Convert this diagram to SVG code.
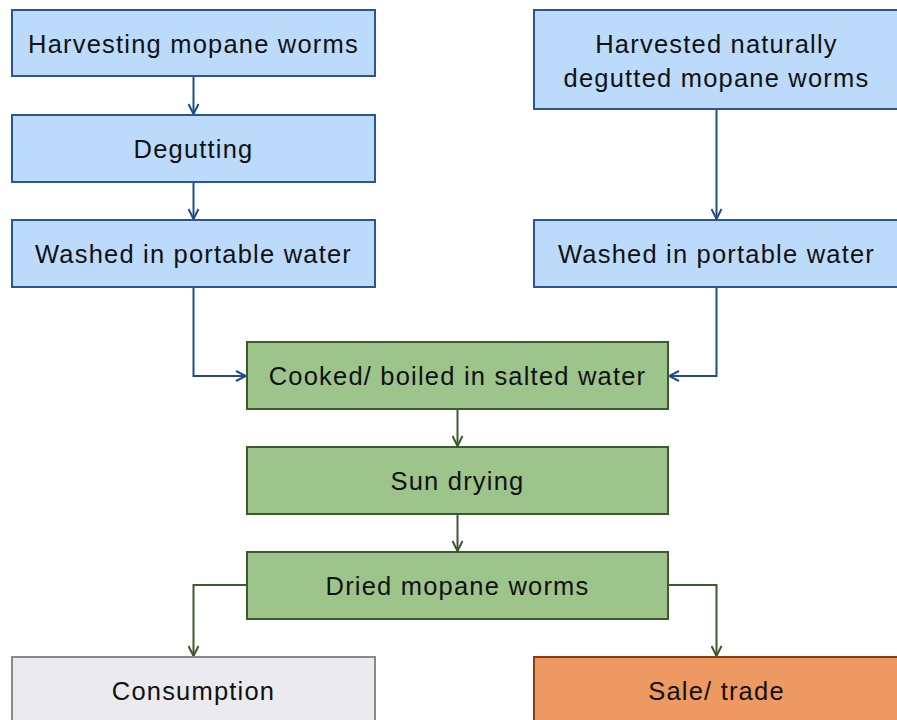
<svg xmlns="http://www.w3.org/2000/svg" width="897" height="720" viewBox="0 0 897 720">
<defs>
<style>
text{font-family:"Liberation Sans",Arial,sans-serif;font-size:25.5px;letter-spacing:1.2px;fill:#111;text-anchor:middle}
.blue{fill:#bcdbfb;stroke:#2a5597;stroke-width:2}
.green{fill:#9cc48b;stroke:#3d5a2f;stroke-width:2}
.gray{fill:#ebebef;stroke:#8a8a8a;stroke-width:2}
.orange{fill:#ee9862;stroke:#8a3c18;stroke-width:2}
.cb{fill:none;stroke:#1f4d8c;stroke-width:2}
.cg{fill:none;stroke:#3d5a2f;stroke-width:2}
</style>
<marker id="ab" viewBox="0 0 12 12" refX="11" refY="6" markerWidth="12" markerHeight="12" markerUnits="userSpaceOnUse" orient="auto">
<path d="M1,1 L11,6 L1,11" fill="none" stroke="#1f4d8c" stroke-width="2"/>
</marker>
<marker id="ag" viewBox="0 0 12 12" refX="11" refY="6" markerWidth="12" markerHeight="12" markerUnits="userSpaceOnUse" orient="auto">
<path d="M1,1 L11,6 L1,11" fill="none" stroke="#3d5a2f" stroke-width="2"/>
</marker>
</defs>
<rect width="897" height="720" fill="#fff"/>
<g id="connectors">
<path class="cb" d="M193.5,77 V114" marker-end="url(#ab)"/>
<path class="cb" d="M193.5,182 V219" marker-end="url(#ab)"/>
<path class="cb" d="M716.5,110 V219" marker-end="url(#ab)"/>
<path class="cb" d="M193.5,287 V376 H246" marker-end="url(#ab)"/>
<path class="cb" d="M716.5,287 V376 H669" marker-end="url(#ab)"/>
<path class="cg" d="M457.5,409 V446" marker-end="url(#ag)"/>
<path class="cg" d="M457.5,514 V551" marker-end="url(#ag)"/>
<path class="cg" d="M247,585 H193.5 V656" marker-end="url(#ag)"/>
<path class="cg" d="M668,585 H716.5 V656" marker-end="url(#ag)"/>
</g>
<g id="n1"><rect class="blue" x="12" y="10" width="363" height="66"/><text x="193.5" y="53">Harvesting mopane worms</text></g>
<g id="n2"><rect class="blue" x="12" y="115" width="363" height="67"/><text x="193.5" y="158">Degutting</text></g>
<g id="n3"><rect class="blue" x="12" y="220" width="363" height="67"/><text x="193.5" y="263">Washed in portable water</text></g>
<g id="n4"><rect class="blue" x="534" y="10" width="366" height="99"/><text x="716.5" y="53">Harvested naturally</text><text x="716.5" y="87">degutted mopane worms</text></g>
<g id="n5"><rect class="blue" x="534" y="220" width="366" height="67"/><text x="716.5" y="263">Washed in portable water</text></g>
<g id="n6"><rect class="green" x="247" y="342" width="421" height="67"/><text x="457.5" y="385">Cooked/ boiled in salted water</text></g>
<g id="n7"><rect class="green" x="247" y="447" width="421" height="67"/><text x="457.5" y="490">Sun drying</text></g>
<g id="n8"><rect class="green" x="247" y="552" width="421" height="67"/><text x="457.5" y="595">Dried mopane worms</text></g>
<g id="n9"><rect class="gray" x="12" y="657" width="363" height="70"/><text x="193.5" y="700">Consumption</text></g>
<g id="n10"><rect class="orange" x="534" y="657" width="366" height="70"/><text x="716.5" y="700">Sale/ trade</text></g>
</svg>
